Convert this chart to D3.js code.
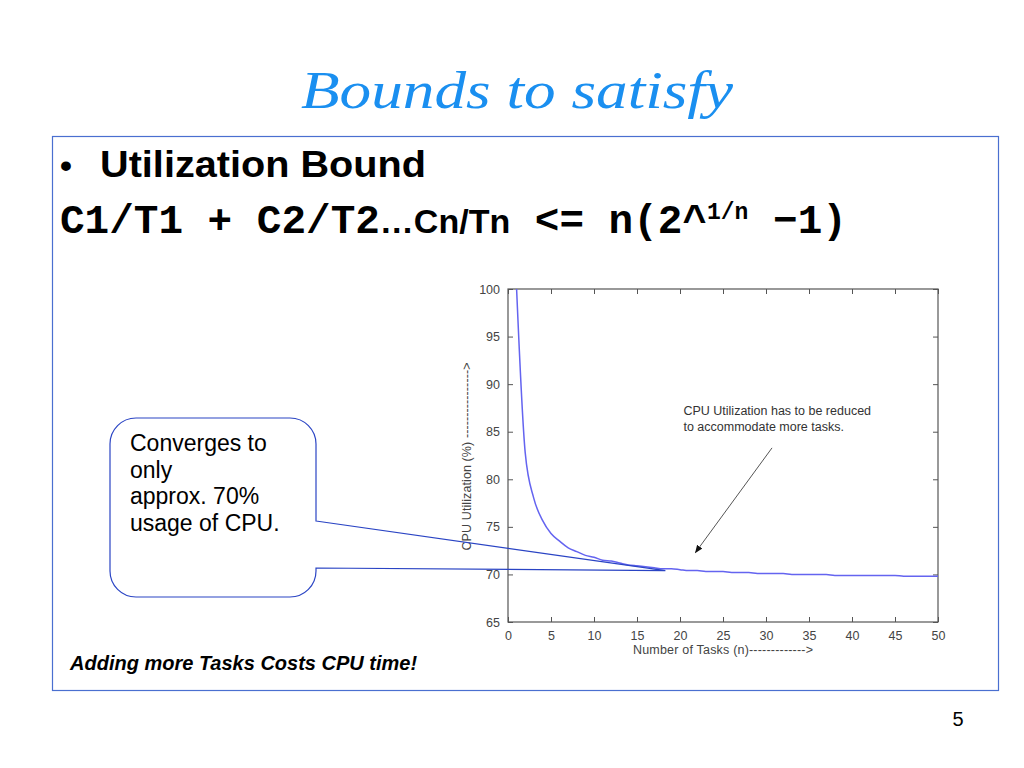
<!DOCTYPE html>
<html>
<head>
<meta charset="utf-8">
<script src="https://cdn.jsdelivr.net/npm/d3@7"></script>
<style>
  body { margin: 0; background: #fff; }
  svg { display: block; }
</style>
</head>
<body>
<svg id="slide"></svg>
<script>
// values: number of tasks vs. utilization bound (%)
const tasks = [1, 2, 3, 4, 5, 6, 7, 8, 9, 10, 11, 12, 13, 14, 15, 16, 17, 18, 19, 20,
  21, 22, 23, 24, 25, 26, 27, 28, 29, 30, 31, 32, 33, 34, 35, 36, 37, 38, 39, 40,
  41, 42, 43, 44, 45, 46, 47, 48, 49, 50];
const utilization = [100, 82.8, 78.0, 75.7, 74.3, 73.5, 72.8, 72.4, 72.0, 71.8,
  71.5, 71.4, 71.2, 71.0, 70.9, 70.8, 70.7, 70.6, 70.6, 70.5,
  70.4, 70.4, 70.3, 70.3, 70.3, 70.2, 70.2, 70.2, 70.1, 70.1,
  70.1, 70.1, 70.0, 70.0, 70.0, 70.0, 70.0, 69.9, 69.9, 69.9,
  69.9, 69.9, 69.9, 69.9, 69.9, 69.8, 69.8, 69.8, 69.8, 69.8];
const xTicks = [0, 5, 10, 15, 20, 25, 30, 35, 40, 45, 50];
const yTicks = [65, 70, 75, 80, 85, 90, 95, 100];
const calloutLines = ['Converges to', 'only', 'approx. 70%', 'usage of CPU.'];
const noteLines = [' CPU Utilization has to be reduced', 'to accommodate more tasks.'];

const W = 1024, H = 768;
const svg = d3.select('#slide').attr('width', W).attr('height', H);
const sans = "'Liberation Sans', Arial, sans-serif";

// slide title
svg.append('text')
  .attr('x', 517).attr('y', 108)
  .attr('text-anchor', 'middle')
  .attr('font-family', "'Liberation Serif', serif")
  .attr('font-style', 'italic')
  .attr('font-size', 52)
  .attr('fill', '#1a8ff0')
  .attr('textLength', 432)
  .attr('lengthAdjust', 'spacingAndGlyphs')
  .text('Bounds to satisfy');

// content frame
svg.append('rect')
  .attr('x', 52.5).attr('y', 136.5)
  .attr('width', 946).attr('height', 554)
  .attr('fill', 'none')
  .attr('stroke', '#4a6fd0')
  .attr('stroke-width', 1.2);

svg.append('text')
  .attr('x', 60).attr('y', 177)
  .attr('font-family', sans)
  .attr('font-size', 34)
  .attr('font-weight', 'bold')
  .text('•');
svg.append('text')
  .attr('x', 100).attr('y', 177)
  .attr('font-family', sans)
  .attr('font-size', 37)
  .attr('font-weight', 'bold')
  .attr('textLength', 326)
  .attr('lengthAdjust', 'spacingAndGlyphs')
  .text('Utilization Bound');

// formula line
const mono = "'Liberation Mono', 'Courier New', monospace";
const formula = svg.append('text')
  .attr('x', 60).attr('y', 233)
  .attr('font-family', mono)
  .attr('font-size', 41)
  .attr('font-weight', 'bold');
formula.append('tspan').text('C1/T1 + C2/T2');
formula.append('tspan')
  .attr('font-family', sans)
  .attr('font-size', 34)
  .text('…Cn/Tn');
formula.append('tspan').text(' <= n(2^');
formula.append('tspan')
  .attr('font-size', 23)
  .attr('dy', -14)
  .text('1/n');
formula.append('tspan')
  .attr('dy', 14)
  .text(' \u22121)');

// chart
const plot = { left: 508, right: 938, top: 289, bottom: 622 };
const x = d3.scaleLinear().domain([0, 50]).range([plot.left, plot.right]);
const y = d3.scaleLinear().domain([65, 100]).range([plot.bottom, plot.top]);
const tickFont = "'Liberation Sans Narrow', 'Liberation Sans', Arial, sans-serif";
const axisColor = '#555';

const chart = svg.append('g');

chart.append('rect')
  .attr('x', plot.left).attr('y', plot.top)
  .attr('width', plot.right - plot.left)
  .attr('height', plot.bottom - plot.top)
  .attr('fill', '#fff');

function styleAxis(g) {
  g.select('.domain').remove();
  g.selectAll('line').attr('stroke', axisColor);
  g.selectAll('text')
    .attr('font-family', tickFont)
    .attr('font-size', 12.5)
    .attr('fill', '#444');
}

chart.append('g')
  .attr('transform', `translate(0,${plot.bottom})`)
  .call(d3.axisBottom(x).tickValues(xTicks).tickSize(-5).tickPadding(9))
  .call(styleAxis);
chart.append('g')
  .attr('transform', `translate(0,${plot.top})`)
  .call(d3.axisTop(x).tickValues(xTicks).tickSize(-5).tickFormat(''))
  .call(styleAxis);
chart.append('g')
  .attr('transform', `translate(${plot.left},0)`)
  .call(d3.axisLeft(y).tickValues(yTicks).tickSize(-5).tickPadding(8))
  .call(styleAxis);
chart.append('g')
  .attr('transform', `translate(${plot.right},0)`)
  .call(d3.axisRight(y).tickValues(yTicks).tickSize(-5).tickFormat(''))
  .call(styleAxis);

chart.append('rect')
  .attr('x', plot.left).attr('y', plot.top)
  .attr('width', plot.right - plot.left)
  .attr('height', plot.bottom - plot.top)
  .attr('fill', 'none')
  .attr('stroke', axisColor)
  .attr('stroke-width', 1.2);

const series = tasks.map((n, i) => ({ n, u: utilization[i] }));
chart.append('path')
  .datum(series)
  .attr('fill', 'none')
  .attr('stroke', '#6464f0')
  .attr('stroke-width', 1.5)
  .attr('d', d3.line().x(d => x(d.n)).y(d => y(d.u)).curve(d3.curveMonotoneX));

chart.append('text')
  .attr('x', (plot.left + plot.right) / 2).attr('y', 654)
  .attr('text-anchor', 'middle')
  .attr('font-family', tickFont)
  .attr('font-size', 12.5)
  .attr('fill', '#444')
  .attr('textLength', 180)
  .text('Number of Tasks (n)------------->');

chart.append('text')
  .attr('transform', `translate(471,${(plot.top + plot.bottom) / 2 + 1}) rotate(-90)`)
  .attr('text-anchor', 'middle')
  .attr('font-family', tickFont)
  .attr('font-size', 12.5)
  .attr('fill', '#444')
  .attr('textLength', 188)
  .text('CPU Utilization (%) ---------------->');

// annotation with arrow
svg.append('defs').append('marker')
  .attr('id', 'head')
  .attr('viewBox', '0 0 10 10')
  .attr('refX', 9).attr('refY', 5)
  .attr('markerWidth', 8).attr('markerHeight', 8)
  .attr('orient', 'auto')
  .append('path').attr('d', 'M0,1 L10,5 L0,9 Z').attr('fill', '#111');

chart.append('text')
  .attr('font-family', sans)
  .attr('font-size', 12.5)
  .attr('fill', '#333')
  .selectAll('tspan')
  .data(noteLines)
  .join('tspan')
  .attr('x', x(20.4))
  .attr('y', (d, i) => 415 + i * 16)
  .text(d => d);

chart.append('line')
  .attr('x1', x(30.7)).attr('y1', y(83.3))
  .attr('x2', x(21.8)).attr('y2', y(72.3))
  .attr('stroke', '#555')
  .attr('stroke-width', 1)
  .attr('marker-end', 'url(#head)');

// callout box with tail pointing at the curve
const box = { x0: 110, y0: 418, x1: 316, y1: 597, r: 26 };
const tip = [x(18.3), y(70.4)];
const tail = [521, 568];
const p = d3.path();
p.moveTo(box.x1, tail[0]);
p.lineTo(tip[0], tip[1]);
p.lineTo(box.x1, tail[1]);
p.lineTo(box.x1, box.y1 - box.r);
p.arcTo(box.x1, box.y1, box.x1 - box.r, box.y1, box.r);
p.lineTo(box.x0 + box.r, box.y1);
p.arcTo(box.x0, box.y1, box.x0, box.y1 - box.r, box.r);
p.lineTo(box.x0, box.y0 + box.r);
p.arcTo(box.x0, box.y0, box.x0 + box.r, box.y0, box.r);
p.lineTo(box.x1 - box.r, box.y0);
p.arcTo(box.x1, box.y0, box.x1, box.y0 + box.r, box.r);
p.closePath();
svg.append('path')
  .attr('d', p.toString())
  .attr('fill', 'none')
  .attr('stroke', '#2a44c4')
  .attr('stroke-width', 1.2);

svg.append('text')
  .attr('font-family', sans)
  .attr('font-size', 23)
  .attr('fill', '#000')
  .selectAll('tspan')
  .data(calloutLines)
  .join('tspan')
  .attr('x', 130)
  .attr('y', (d, i) => 451 + i * 26.5)
  .text(d => d);

svg.append('text')
  .attr('x', 70).attr('y', 670)
  .attr('font-family', sans)
  .attr('font-size', 20)
  .attr('font-weight', 'bold')
  .attr('font-style', 'italic')
  .text('Adding more Tasks Costs CPU time!');

svg.append('text')
  .attr('x', 958).attr('y', 726)
  .attr('text-anchor', 'middle')
  .attr('font-family', sans)
  .attr('font-size', 20)
  .text('5');
</script>
</body>
</html>
